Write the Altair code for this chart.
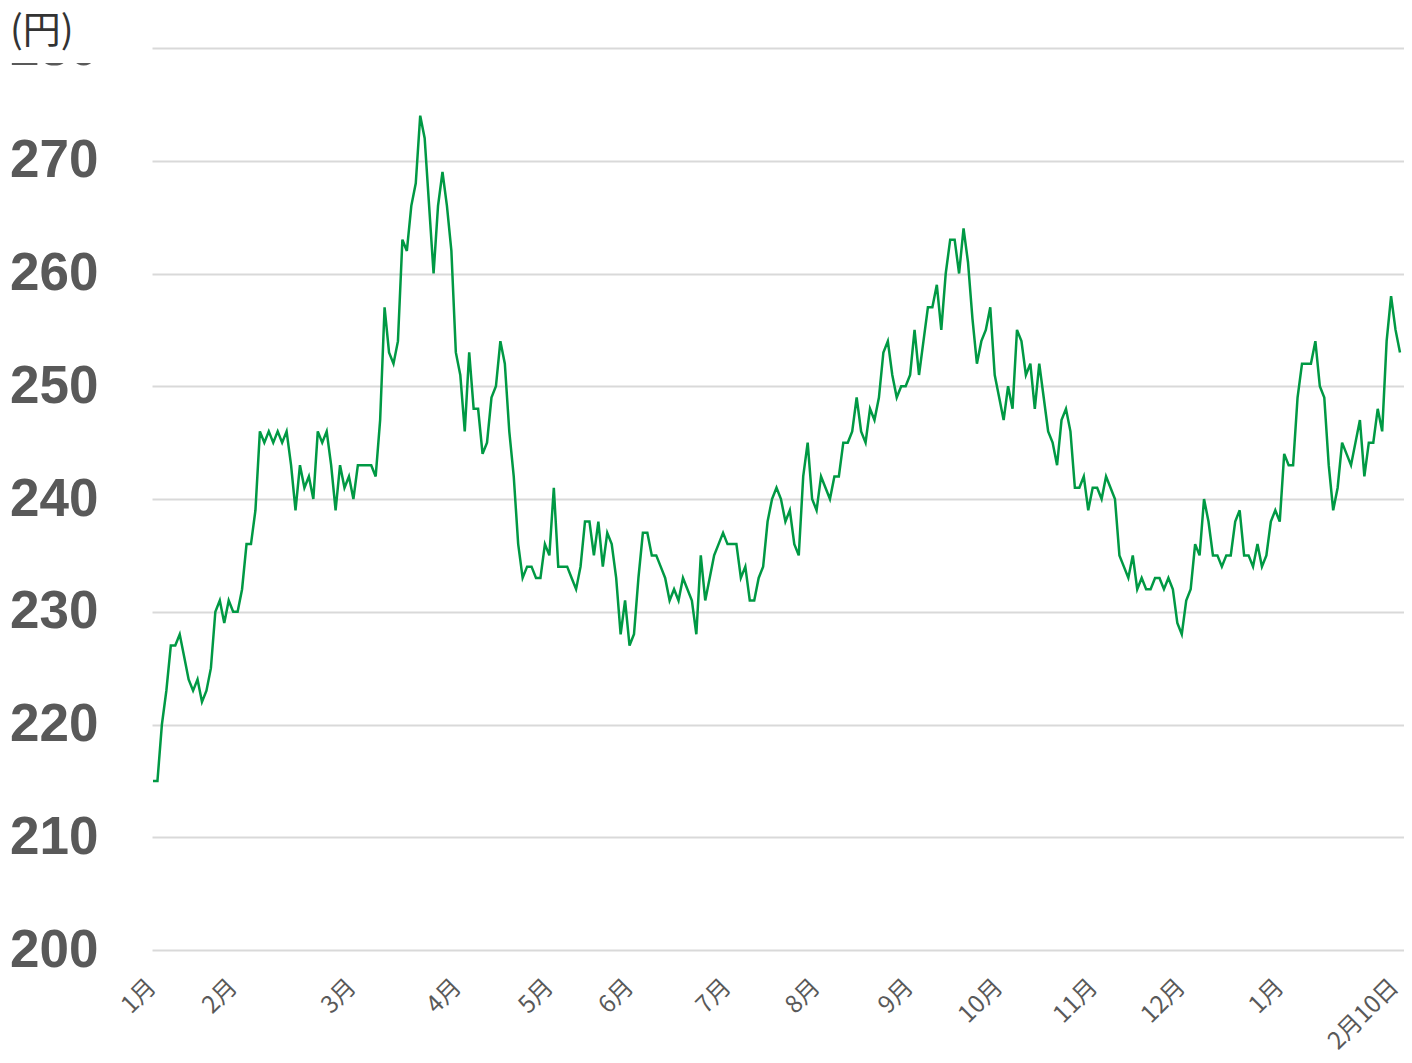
import altair as alt
import pandas as pd

prices = [
    215, 215, 220, 223, 227, 227, 228, 226, 224, 223,
    224, 222, 223, 225, 230, 231, 229, 231, 230, 230,
    232, 236, 236, 239, 246, 245, 246, 245, 246, 245,
    246, 243, 239, 243, 241, 242, 240, 246, 245, 246,
    243, 239, 243, 241, 242, 240, 243, 243, 243, 243,
    242, 247, 257, 253, 252, 254, 263, 262, 266, 268,
    274, 272, 266, 260, 266, 269, 266, 262, 253, 251,
    246, 253, 248, 248, 244, 245, 249, 250, 254, 252,
    246, 242, 236, 233, 234, 234, 233, 233, 236, 235,
    241, 234, 234, 234, 233, 232, 234, 238, 238, 235,
    238, 234, 237, 236, 233, 228, 231, 227, 228, 233,
    237, 237, 235, 235, 234, 233, 231, 232, 231, 233,
    232, 231, 228, 235, 231, 233, 235, 236, 237, 236,
    236, 236, 233, 234, 231, 231, 233, 234, 238, 240,
    241, 240, 238, 239, 236, 235, 242, 245, 240, 239,
    242, 241, 240, 242, 242, 245, 245, 246, 249, 246,
    245, 248, 247, 249, 253, 254, 251, 249, 250, 250,
    251, 255, 251, 254, 257, 257, 259, 255, 260, 263,
    263, 260, 264, 261, 256, 252, 254, 255, 257, 251,
    249, 247, 250, 248, 255, 254, 251, 252, 248, 252,
    249, 246, 245, 243, 247, 248, 246, 241, 241, 242,
    239, 241, 241, 240, 242, 241, 240, 235, 234, 233,
    235, 232, 233, 232, 232, 233, 233, 232, 233, 232,
    229, 228, 231, 232, 236, 235, 240, 238, 235, 235,
    234, 235, 235, 238, 239, 235, 235, 234, 236, 234,
    235, 238, 239, 238, 244, 243, 243, 249, 252, 252,
    252, 254, 250, 249, 243, 239, 241, 245, 244, 243,
    245, 247, 242, 245, 245, 248, 246, 254, 258, 255, 253,
]

tick_idx = [-0.2, 18, 44.7, 68.3, 89, 107, 128.9, 148.9, 169.8, 189.9,
            211.2, 230.9, 253, 278.8]
tick_text = ["1月", "2月", "3月", "4月", "5月", "6月", "7月", "8月", "9月",
             "10月", "11月", "12月", "1月", "2月10日"]
y_ticks = [200, 210, 220, 230, 240, 250, 260, 270, 280]
unit_label = "(円)"

df = pd.DataFrame({"i": list(range(len(prices))), "price": prices})

expr = "''"
for v, t in reversed(list(zip(tick_idx, tick_text))):
    expr = f"abs(datum.value - ({v})) < 0.01 ? '{t}' : ({expr})"

line = alt.Chart(df).mark_line(color="#009944", strokeWidth=2.5).encode(
    x=alt.X(
        "i:Q",
        scale=alt.Scale(domain=[-0.2245, 280.9], nice=False, zero=False),
        axis=alt.Axis(
            values=tick_idx, labelExpr=expr, labelAngle=-45, labelAlign="right",
            labelBaseline="middle", labelPadding=33, ticks=False, tickSize=0,
            domain=False, grid=False, labelFontSize=24, labelFont="Noto Sans CJK JP",
            labelColor="#595959", title=None, labelFlush=False, labelOverlap=False,
            labelBound=False, zindex=0,
        ),
    ),
    y=alt.Y(
        "price:Q",
        scale=alt.Scale(domain=[200, 280], nice=False, zero=False),
        axis=alt.Axis(
            values=y_ticks, grid=True, gridColor="#d9d9d9", gridWidth=2,
            ticks=False, tickSize=0, domain=False, labelPadding=54,
            labelFontSize=53, labelFontWeight="bold", labelFont="Liberation Sans",
            labelColor="#595959", title=None, zindex=0,
        ),
    ),
)

one = pd.DataFrame({"t": [unit_label]})
cover = alt.Chart(one).mark_rect(color="white").encode(
    x=alt.value(-144), x2=alt.value(-17), y=alt.value(-40), y2=alt.value(15)
)
unit = alt.Chart(one).mark_text(
    align="left", baseline="middle", fontSize=38, font="Noto Sans CJK JP", color="#333333"
).encode(x=alt.value(-142), y=alt.value(-16), text="t:N")

chart = alt.layer(line, cover, unit).properties(
    width=1252,
    height=902,
    autosize=alt.AutoSizeParams(type="none"),
    padding={"left": 144, "top": 40, "right": 0, "bottom": 105},
    background="white",
).configure_view(stroke=None)

chart.save("out.html", embed_options={"renderer": "svg", "actions": False})
